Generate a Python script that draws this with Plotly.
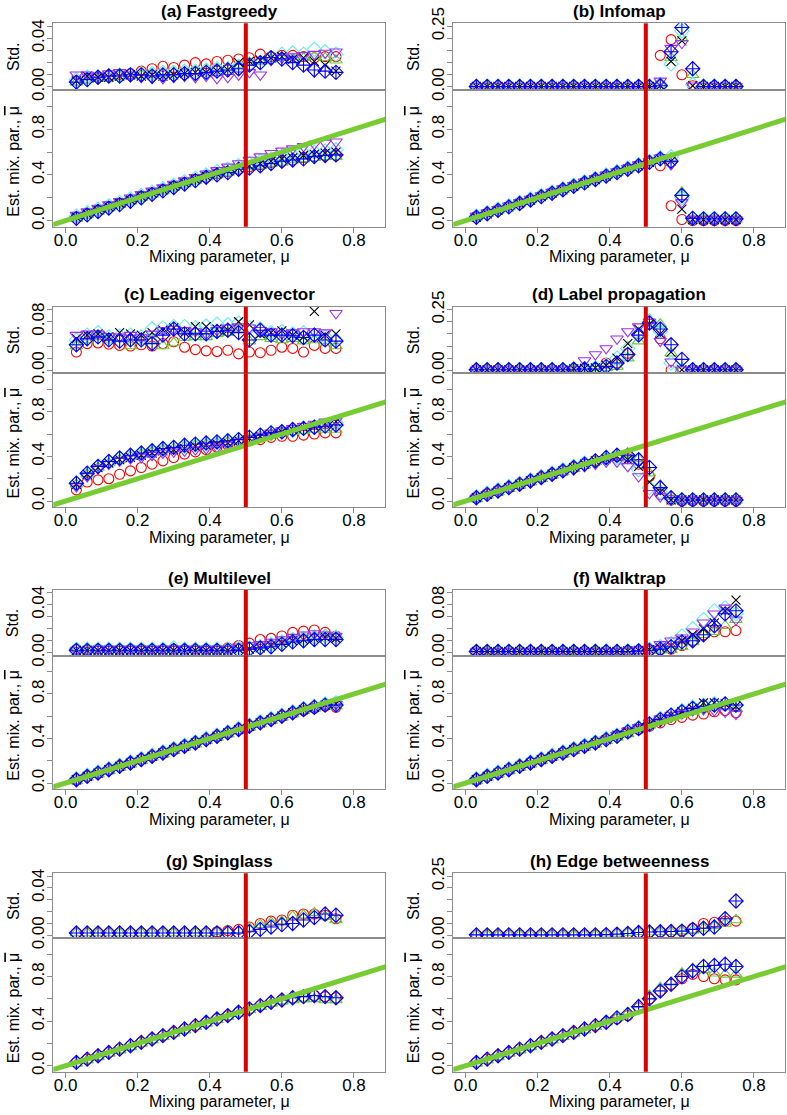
import plotly.graph_objects as go

# mixing parameter values used in the benchmark
mu = [0.03, 0.06, 0.09, 0.12, 0.15, 0.18, 0.21, 0.24, 0.27, 0.30, 0.33, 0.36, 0.39,
      0.42, 0.45, 0.48, 0.51, 0.54, 0.57, 0.60, 0.63, 0.66, 0.69, 0.72, 0.75]

# (a) Fastgreedy
a_red_m = [0.03, 0.06, 0.09, 0.12, 0.15, 0.18, 0.21, 0.24, 0.27, 0.30, 0.33, 0.36, 0.38, 0.41, 0.43, 0.45, 0.47, 0.49, 0.51, 0.52, 0.53, 0.55, 0.56, 0.57, 0.57]
a_green_m = [0.02, 0.05, 0.08, 0.11, 0.14, 0.17, 0.20, 0.23, 0.26, 0.29, 0.32, 0.35, 0.38, 0.40, 0.42, 0.45, 0.47, 0.48, 0.50, 0.51, 0.53, 0.54, 0.55, 0.56, 0.56]
a_cyan_m = [0.04, 0.07, 0.10, 0.13, 0.16, 0.19, 0.22, 0.25, 0.28, 0.31, 0.34, 0.37, 0.40, 0.43, 0.45, 0.48, 0.50, 0.52, 0.54, 0.56, 0.57, 0.59, 0.60, 0.61, 0.62]
a_black_m = [0.03, 0.06, 0.09, 0.12, 0.15, 0.18, 0.21, 0.24, 0.27, 0.30, 0.33, 0.36, 0.39, 0.41, 0.44, 0.46, 0.48, 0.50, 0.52, 0.54, 0.55, 0.57, 0.58, 0.59, 0.60]
a_purple_m = [0.05, 0.08, 0.11, 0.14, 0.17, 0.20, 0.23, 0.26, 0.29, 0.32, 0.35, 0.38, 0.41, 0.44, 0.47, 0.50, 0.53, 0.56, 0.59, 0.61, 0.63, 0.65, 0.67, 0.68, 0.69]
a_blue_m = [0.02, 0.05, 0.08, 0.11, 0.14, 0.17, 0.20, 0.23, 0.26, 0.29, 0.32, 0.35, 0.38, 0.40, 0.42, 0.45, 0.46, 0.48, 0.50, 0.52, 0.53, 0.54, 0.56, 0.57, 0.575]
a_red_s = [0.005, 0.007, 0.008, 0.009, 0.010, 0.011, 0.013, 0.015, 0.017, 0.016, 0.018, 0.020, 0.019, 0.021, 0.022, 0.023, 0.024, 0.027, 0.025, 0.026, 0.026, 0.025, 0.024, 0.025, 0.025]
a_green_s = [0.004, 0.006, 0.007, 0.008, 0.009, 0.009, 0.010, 0.010, 0.011, 0.012, 0.012, 0.013, 0.014, 0.015, 0.016, 0.018, 0.020, 0.021, 0.023, 0.024, 0.023, 0.024, 0.025, 0.024, 0.022]
a_cyan_s = [0.006, 0.008, 0.008, 0.009, 0.010, 0.010, 0.011, 0.011, 0.012, 0.012, 0.013, 0.013, 0.014, 0.015, 0.015, 0.017, 0.019, 0.020, 0.024, 0.027, 0.028, 0.027, 0.031, 0.029, 0.027]
a_black_s = [0.005, 0.009, 0.008, 0.008, 0.009, 0.010, 0.009, 0.010, 0.009, 0.010, 0.011, 0.012, 0.012, 0.013, 0.014, 0.020, 0.021, 0.022, 0.024, 0.025, 0.023, 0.024, 0.021, 0.018, 0.013]
a_purple_s = [0.010, 0.010, 0.009, 0.011, 0.012, 0.010, 0.008, 0.007, 0.007, 0.008, 0.009, 0.008, 0.009, 0.007, 0.008, 0.010, 0.012, 0.010, 0.022, 0.024, 0.025, 0.026, 0.027, 0.028, 0.029]
a_blue_s = [0.004, 0.006, 0.008, 0.009, 0.009, 0.010, 0.010, 0.009, 0.010, 0.010, 0.011, 0.011, 0.012, 0.013, 0.014, 0.015, 0.018, 0.020, 0.024, 0.023, 0.020, 0.018, 0.014, 0.013, 0.012]

# (b) Infomap
b_red_m = [0.03, 0.06, 0.09, 0.12, 0.15, 0.18, 0.21, 0.24, 0.27, 0.30, 0.33, 0.36, 0.39, 0.42, 0.45, 0.48, 0.51, 0.48, 0.13, 0.01, 0.00, 0.00, 0.00, 0.00, 0.00]
b_green_m = [0.03, 0.06, 0.09, 0.12, 0.15, 0.18, 0.21, 0.24, 0.27, 0.30, 0.33, 0.36, 0.39, 0.42, 0.45, 0.48, 0.51, 0.54, 0.55, 0.25, 0.01, 0.01, 0.01, 0.01, 0.01]
b_cyan_m = [0.04, 0.07, 0.10, 0.13, 0.16, 0.19, 0.22, 0.25, 0.28, 0.31, 0.34, 0.37, 0.40, 0.43, 0.46, 0.49, 0.52, 0.55, 0.56, 0.20, 0.02, 0.02, 0.02, 0.02, 0.02]
b_black_m = [0.03, 0.06, 0.09, 0.12, 0.15, 0.18, 0.21, 0.24, 0.27, 0.30, 0.33, 0.36, 0.39, 0.42, 0.45, 0.48, 0.51, 0.54, 0.52, 0.10, 0.01, 0.01, 0.01, 0.01, 0.01]
b_purple_m = [0.04, 0.07, 0.10, 0.13, 0.16, 0.19, 0.22, 0.25, 0.28, 0.31, 0.34, 0.37, 0.40, 0.43, 0.46, 0.49, 0.52, 0.55, 0.49, 0.16, 0.01, 0.01, 0.01, 0.01, 0.01]
b_blue_m = [0.03, 0.06, 0.09, 0.12, 0.15, 0.18, 0.21, 0.24, 0.27, 0.30, 0.33, 0.36, 0.39, 0.42, 0.45, 0.48, 0.51, 0.54, 0.52, 0.22, 0.02, 0.015, 0.015, 0.015, 0.015]
b_red_s = [0.002, 0.002, 0.002, 0.002, 0.002, 0.002, 0.002, 0.002, 0.002, 0.002, 0.002, 0.002, 0.002, 0.002, 0.002, 0.002, 0.002, 0.130, 0.195, 0.050, 0.005, 0.002, 0.002, 0.002, 0.002]
b_green_s = [0.003, 0.003, 0.003, 0.003, 0.003, 0.003, 0.003, 0.003, 0.003, 0.003, 0.003, 0.003, 0.003, 0.003, 0.003, 0.003, 0.003, 0.010, 0.120, 0.200, 0.050, 0.003, 0.003, 0.003, 0.003]
b_cyan_s = [0.003, 0.003, 0.003, 0.003, 0.003, 0.003, 0.003, 0.003, 0.003, 0.003, 0.003, 0.003, 0.003, 0.003, 0.003, 0.003, 0.003, 0.010, 0.095, 0.230, 0.010, 0.003, 0.003, 0.003, 0.003]
b_black_s = [0.002, 0.002, 0.002, 0.002, 0.002, 0.002, 0.002, 0.002, 0.002, 0.002, 0.002, 0.002, 0.002, 0.002, 0.002, 0.002, 0.002, 0.005, 0.105, 0.190, 0.005, 0.002, 0.002, 0.002, 0.002]
b_purple_s = [0.003, 0.003, 0.003, 0.003, 0.003, 0.003, 0.003, 0.003, 0.003, 0.003, 0.003, 0.003, 0.003, 0.003, 0.003, 0.003, 0.003, 0.025, 0.160, 0.180, 0.005, 0.003, 0.003, 0.003, 0.003]
b_blue_s = [0.002, 0.002, 0.002, 0.002, 0.002, 0.002, 0.002, 0.002, 0.002, 0.002, 0.002, 0.002, 0.002, 0.002, 0.002, 0.002, 0.002, 0.005, 0.145, 0.245, 0.075, 0.002, 0.002, 0.002, 0.002]

# (c) Leading eigenvector
c_red_m = [0.10, 0.17, 0.19, 0.20, 0.24, 0.27, 0.30, 0.33, 0.36, 0.39, 0.42, 0.44, 0.46, 0.48, 0.50, 0.52, 0.54, 0.55, 0.57, 0.58, 0.58, 0.59, 0.60, 0.61, 0.61]
c_green_m = [0.15, 0.24, 0.30, 0.34, 0.37, 0.40, 0.42, 0.44, 0.46, 0.47, 0.49, 0.50, 0.51, 0.52, 0.53, 0.54, 0.56, 0.58, 0.60, 0.61, 0.62, 0.63, 0.64, 0.64, 0.64]
c_cyan_m = [0.16, 0.24, 0.31, 0.35, 0.38, 0.40, 0.42, 0.44, 0.46, 0.48, 0.49, 0.50, 0.51, 0.52, 0.53, 0.55, 0.57, 0.59, 0.61, 0.62, 0.63, 0.65, 0.66, 0.68, 0.70]
c_black_m = [0.15, 0.24, 0.30, 0.34, 0.37, 0.39, 0.41, 0.43, 0.45, 0.46, 0.47, 0.49, 0.50, 0.51, 0.52, 0.54, 0.56, 0.58, 0.60, 0.62, 0.64, 0.66, 0.67, 0.69, 0.71]
c_purple_m = [0.13, 0.22, 0.29, 0.33, 0.36, 0.38, 0.39, 0.41, 0.43, 0.44, 0.45, 0.46, 0.47, 0.48, 0.50, 0.53, 0.56, 0.58, 0.61, 0.63, 0.65, 0.67, 0.69, 0.71, 0.72]
c_blue_m = [0.16, 0.25, 0.31, 0.355, 0.385, 0.41, 0.43, 0.45, 0.47, 0.48, 0.50, 0.51, 0.52, 0.53, 0.54, 0.55, 0.57, 0.59, 0.61, 0.62, 0.64, 0.65, 0.66, 0.67, 0.68]
c_red_s = [0.030, 0.044, 0.045, 0.043, 0.041, 0.040, 0.042, 0.040, 0.044, 0.047, 0.038, 0.034, 0.032, 0.031, 0.033, 0.027, 0.030, 0.029, 0.033, 0.038, 0.036, 0.030, 0.041, 0.036, 0.036]
c_green_s = [0.040, 0.050, 0.055, 0.050, 0.052, 0.040, 0.048, 0.050, 0.040, 0.045, 0.054, 0.055, 0.055, 0.060, 0.062, 0.068, 0.048, 0.055, 0.052, 0.050, 0.052, 0.048, 0.050, 0.045, 0.040]
c_cyan_s = [0.050, 0.058, 0.062, 0.055, 0.056, 0.058, 0.055, 0.068, 0.070, 0.072, 0.072, 0.070, 0.073, 0.076, 0.075, 0.078, 0.070, 0.068, 0.062, 0.064, 0.060, 0.062, 0.058, 0.055, 0.050]
c_black_s = [0.052, 0.058, 0.060, 0.055, 0.062, 0.060, 0.058, 0.062, 0.066, 0.070, 0.062, 0.072, 0.072, 0.068, 0.066, 0.080, 0.075, 0.060, 0.062, 0.065, 0.058, 0.055, 0.097, 0.058, 0.060]
c_purple_s = [0.058, 0.060, 0.060, 0.056, 0.055, 0.058, 0.054, 0.060, 0.066, 0.068, 0.066, 0.064, 0.060, 0.066, 0.070, 0.072, 0.070, 0.066, 0.064, 0.060, 0.062, 0.064, 0.064, 0.062, 0.094]
c_blue_s = [0.042, 0.052, 0.055, 0.050, 0.048, 0.050, 0.050, 0.044, 0.058, 0.068, 0.060, 0.060, 0.060, 0.064, 0.066, 0.062, 0.050, 0.066, 0.058, 0.058, 0.057, 0.054, 0.058, 0.050, 0.048]

# (d) Label propagation
d_red_m = [0.03, 0.06, 0.09, 0.12, 0.15, 0.18, 0.21, 0.24, 0.27, 0.30, 0.33, 0.36, 0.38, 0.40, 0.38, 0.33, 0.22, 0.06, 0.01, 0.00, 0.00, 0.00, 0.00, 0.00, 0.00]
d_green_m = [0.02, 0.05, 0.08, 0.11, 0.14, 0.17, 0.20, 0.23, 0.26, 0.29, 0.32, 0.35, 0.38, 0.41, 0.42, 0.38, 0.25, 0.14, 0.04, 0.005, 0.005, 0.005, 0.005, 0.005, 0.005]
d_cyan_m = [0.04, 0.07, 0.10, 0.13, 0.16, 0.19, 0.22, 0.25, 0.28, 0.31, 0.34, 0.36, 0.38, 0.39, 0.33, 0.28, 0.12, 0.08, 0.02, 0.01, 0.01, 0.01, 0.01, 0.01, 0.01]
d_black_m = [0.03, 0.06, 0.09, 0.12, 0.15, 0.18, 0.21, 0.24, 0.27, 0.30, 0.33, 0.36, 0.38, 0.40, 0.37, 0.31, 0.17, 0.08, 0.01, 0.01, 0.01, 0.01, 0.01, 0.01, 0.01]
d_purple_m = [0.03, 0.06, 0.09, 0.11, 0.14, 0.17, 0.20, 0.23, 0.26, 0.28, 0.31, 0.33, 0.35, 0.35, 0.31, 0.22, 0.07, 0.04, 0.01, 0.01, 0.01, 0.01, 0.01, 0.01, 0.01]
d_blue_m = [0.03, 0.06, 0.09, 0.12, 0.15, 0.18, 0.21, 0.24, 0.27, 0.30, 0.33, 0.36, 0.39, 0.41, 0.41, 0.37, 0.30, 0.12, 0.03, 0.01, 0.01, 0.01, 0.01, 0.01, 0.01]
d_red_s = [0.002, 0.002, 0.002, 0.002, 0.002, 0.002, 0.002, 0.002, 0.002, 0.004, 0.006, 0.010, 0.030, 0.030, 0.070, 0.150, 0.190, 0.130, 0.000, 0.000, 0.000, 0.000, 0.000, 0.000, 0.000]
d_green_s = [0.002, 0.002, 0.002, 0.002, 0.002, 0.002, 0.002, 0.002, 0.004, 0.006, 0.008, 0.010, 0.010, 0.015, 0.050, 0.120, 0.210, 0.190, 0.070, 0.002, 0.002, 0.002, 0.002, 0.002, 0.002]
d_cyan_s = [0.002, 0.002, 0.002, 0.002, 0.002, 0.002, 0.002, 0.002, 0.002, 0.006, 0.008, 0.010, 0.020, 0.050, 0.090, 0.150, 0.200, 0.160, 0.030, 0.002, 0.002, 0.002, 0.002, 0.002, 0.002]
d_black_s = [0.002, 0.002, 0.002, 0.002, 0.002, 0.002, 0.002, 0.002, 0.002, 0.006, 0.008, 0.010, 0.020, 0.050, 0.110, 0.170, 0.190, 0.150, 0.075, 0.002, 0.002, 0.002, 0.002, 0.002, 0.002]
d_purple_s = [0.002, 0.002, 0.002, 0.002, 0.002, 0.002, 0.002, 0.002, 0.002, 0.005, 0.040, 0.065, 0.090, 0.130, 0.160, 0.180, 0.200, 0.120, 0.035, 0.002, 0.002, 0.002, 0.002, 0.002, 0.002]
d_blue_s = [0.002, 0.002, 0.002, 0.002, 0.002, 0.002, 0.002, 0.002, 0.002, 0.004, 0.005, 0.005, 0.015, 0.030, 0.065, 0.145, 0.195, 0.170, 0.105, 0.045, 0.002, 0.002, 0.002, 0.002, 0.002]

# (e) Multilevel
e_red_m = [0.03, 0.06, 0.09, 0.12, 0.15, 0.18, 0.21, 0.24, 0.27, 0.30, 0.33, 0.36, 0.39, 0.42, 0.45, 0.48, 0.51, 0.54, 0.57, 0.60, 0.63, 0.65, 0.67, 0.69, 0.68]
e_green_m = [0.02, 0.05, 0.08, 0.11, 0.14, 0.17, 0.20, 0.23, 0.26, 0.29, 0.32, 0.35, 0.38, 0.41, 0.44, 0.47, 0.50, 0.53, 0.56, 0.59, 0.62, 0.65, 0.67, 0.69, 0.69]
e_cyan_m = [0.04, 0.07, 0.10, 0.13, 0.16, 0.19, 0.22, 0.25, 0.28, 0.31, 0.34, 0.37, 0.40, 0.43, 0.46, 0.49, 0.52, 0.55, 0.58, 0.61, 0.64, 0.67, 0.69, 0.71, 0.72]
e_black_m = [0.03, 0.06, 0.09, 0.12, 0.15, 0.18, 0.21, 0.24, 0.27, 0.30, 0.33, 0.36, 0.39, 0.42, 0.45, 0.48, 0.51, 0.54, 0.57, 0.60, 0.63, 0.66, 0.68, 0.70, 0.71]
e_purple_m = [0.02, 0.05, 0.08, 0.11, 0.14, 0.17, 0.20, 0.23, 0.26, 0.29, 0.32, 0.35, 0.38, 0.41, 0.44, 0.47, 0.50, 0.53, 0.56, 0.59, 0.62, 0.65, 0.68, 0.70, 0.71]
e_blue_m = [0.03, 0.06, 0.09, 0.12, 0.15, 0.18, 0.21, 0.24, 0.27, 0.30, 0.33, 0.36, 0.39, 0.42, 0.45, 0.48, 0.51, 0.54, 0.57, 0.60, 0.63, 0.66, 0.68, 0.70, 0.70]
e_red_s = [0.003, 0.002, 0.003, 0.003, 0.003, 0.003, 0.003, 0.003, 0.003, 0.003, 0.003, 0.003, 0.003, 0.003, 0.004, 0.006, 0.008, 0.011, 0.012, 0.014, 0.017, 0.018, 0.019, 0.017, 0.014]
e_green_s = [0.003, 0.002, 0.003, 0.003, 0.003, 0.003, 0.003, 0.003, 0.003, 0.003, 0.003, 0.003, 0.003, 0.003, 0.003, 0.004, 0.005, 0.006, 0.008, 0.010, 0.012, 0.013, 0.014, 0.015, 0.014]
e_cyan_s = [0.003, 0.003, 0.003, 0.003, 0.003, 0.003, 0.003, 0.003, 0.003, 0.004, 0.003, 0.003, 0.003, 0.003, 0.003, 0.004, 0.004, 0.005, 0.007, 0.009, 0.011, 0.012, 0.013, 0.014, 0.013]
e_black_s = [0.002, 0.002, 0.002, 0.002, 0.002, 0.002, 0.002, 0.002, 0.002, 0.002, 0.002, 0.002, 0.002, 0.002, 0.002, 0.003, 0.003, 0.004, 0.006, 0.008, 0.010, 0.011, 0.012, 0.013, 0.012]
e_purple_s = [0.002, 0.002, 0.003, 0.003, 0.003, 0.003, 0.003, 0.003, 0.003, 0.003, 0.003, 0.003, 0.003, 0.003, 0.003, 0.005, 0.006, 0.007, 0.009, 0.011, 0.013, 0.015, 0.016, 0.015, 0.014]
e_blue_s = [0.002, 0.002, 0.002, 0.002, 0.002, 0.002, 0.002, 0.002, 0.002, 0.002, 0.002, 0.002, 0.002, 0.002, 0.002, 0.002, 0.003, 0.004, 0.005, 0.007, 0.009, 0.010, 0.011, 0.011, 0.011]

# (f) Walktrap
f_red_m = [0.03, 0.06, 0.09, 0.12, 0.15, 0.18, 0.21, 0.24, 0.27, 0.30, 0.33, 0.36, 0.39, 0.42, 0.45, 0.48, 0.51, 0.54, 0.57, 0.59, 0.61, 0.62, 0.64, 0.65, 0.63]
f_green_m = [0.02, 0.05, 0.08, 0.11, 0.14, 0.17, 0.20, 0.23, 0.26, 0.29, 0.32, 0.35, 0.38, 0.41, 0.44, 0.48, 0.52, 0.56, 0.59, 0.62, 0.64, 0.66, 0.68, 0.68, 0.67]
f_cyan_m = [0.04, 0.07, 0.10, 0.13, 0.16, 0.19, 0.22, 0.25, 0.28, 0.31, 0.34, 0.37, 0.40, 0.43, 0.47, 0.50, 0.53, 0.58, 0.61, 0.65, 0.68, 0.70, 0.71, 0.71, 0.70]
f_black_m = [0.03, 0.06, 0.09, 0.12, 0.15, 0.18, 0.21, 0.24, 0.27, 0.30, 0.33, 0.36, 0.39, 0.43, 0.46, 0.49, 0.53, 0.57, 0.61, 0.64, 0.67, 0.72, 0.72, 0.71, 0.69]
f_purple_m = [0.02, 0.05, 0.08, 0.11, 0.14, 0.17, 0.20, 0.23, 0.26, 0.29, 0.32, 0.35, 0.39, 0.43, 0.47, 0.50, 0.54, 0.58, 0.61, 0.63, 0.65, 0.66, 0.65, 0.64, 0.62]
f_blue_m = [0.03, 0.06, 0.09, 0.12, 0.15, 0.18, 0.21, 0.24, 0.27, 0.30, 0.33, 0.36, 0.39, 0.42, 0.46, 0.49, 0.53, 0.57, 0.61, 0.64, 0.67, 0.69, 0.70, 0.71, 0.70]
f_red_s = [0.002, 0.002, 0.002, 0.002, 0.002, 0.002, 0.002, 0.002, 0.002, 0.002, 0.002, 0.002, 0.002, 0.002, 0.002, 0.003, 0.004, 0.005, 0.006, 0.012, 0.020, 0.030, 0.035, 0.035, 0.037]
f_green_s = [0.002, 0.002, 0.002, 0.002, 0.002, 0.002, 0.002, 0.002, 0.002, 0.002, 0.002, 0.002, 0.002, 0.002, 0.002, 0.003, 0.004, 0.004, 0.005, 0.010, 0.018, 0.030, 0.035, 0.045, 0.055]
f_cyan_s = [0.002, 0.002, 0.002, 0.002, 0.002, 0.002, 0.002, 0.002, 0.002, 0.002, 0.002, 0.002, 0.002, 0.002, 0.003, 0.004, 0.006, 0.010, 0.015, 0.028, 0.040, 0.055, 0.070, 0.075, 0.065]
f_black_s = [0.002, 0.002, 0.002, 0.002, 0.002, 0.002, 0.002, 0.002, 0.002, 0.002, 0.002, 0.002, 0.002, 0.002, 0.003, 0.004, 0.005, 0.008, 0.012, 0.020, 0.030, 0.040, 0.050, 0.070, 0.088]
f_purple_s = [0.002, 0.002, 0.002, 0.002, 0.002, 0.002, 0.002, 0.002, 0.002, 0.002, 0.002, 0.002, 0.002, 0.002, 0.003, 0.005, 0.006, 0.014, 0.020, 0.025, 0.035, 0.050, 0.065, 0.075, 0.055]
f_blue_s = [0.002, 0.002, 0.002, 0.002, 0.002, 0.002, 0.002, 0.002, 0.002, 0.002, 0.002, 0.002, 0.002, 0.002, 0.002, 0.003, 0.004, 0.006, 0.010, 0.018, 0.020, 0.030, 0.045, 0.065, 0.070]

# (g) Spinglass
g_red_m = [0.03, 0.06, 0.09, 0.12, 0.15, 0.18, 0.21, 0.24, 0.27, 0.30, 0.33, 0.36, 0.39, 0.42, 0.45, 0.48, 0.51, 0.54, 0.57, 0.59, 0.61, 0.62, 0.63, 0.62, 0.61]
g_green_m = [0.02, 0.05, 0.08, 0.11, 0.14, 0.17, 0.20, 0.23, 0.26, 0.29, 0.32, 0.35, 0.38, 0.41, 0.44, 0.47, 0.50, 0.53, 0.56, 0.58, 0.59, 0.60, 0.60, 0.59, 0.59]
g_blue_m = [0.03, 0.06, 0.09, 0.12, 0.15, 0.18, 0.21, 0.24, 0.27, 0.30, 0.33, 0.36, 0.39, 0.42, 0.45, 0.48, 0.51, 0.54, 0.57, 0.59, 0.61, 0.62, 0.63, 0.62, 0.61]
g_red_s = [0.002, 0.002, 0.002, 0.002, 0.002, 0.002, 0.002, 0.002, 0.002, 0.002, 0.002, 0.002, 0.002, 0.003, 0.004, 0.005, 0.007, 0.010, 0.012, 0.013, 0.017, 0.018, 0.018, 0.017, 0.014]
g_green_s = [0.002, 0.002, 0.002, 0.002, 0.002, 0.002, 0.002, 0.002, 0.002, 0.002, 0.002, 0.002, 0.002, 0.003, 0.004, 0.004, 0.006, 0.009, 0.011, 0.012, 0.016, 0.017, 0.019, 0.016, 0.013]
g_blue_s = [0.002, 0.002, 0.002, 0.002, 0.002, 0.002, 0.002, 0.002, 0.002, 0.002, 0.002, 0.002, 0.002, 0.002, 0.002, 0.002, 0.003, 0.005, 0.007, 0.009, 0.010, 0.013, 0.015, 0.018, 0.017]

# (h) Edge betweenness
h_red_m = [0.03, 0.06, 0.09, 0.12, 0.15, 0.18, 0.21, 0.24, 0.27, 0.30, 0.33, 0.36, 0.39, 0.42, 0.45, 0.52, 0.60, 0.67, 0.73, 0.78, 0.82, 0.80, 0.78, 0.77, 0.77]
h_green_m = [0.02, 0.05, 0.08, 0.11, 0.14, 0.17, 0.20, 0.23, 0.26, 0.29, 0.32, 0.35, 0.39, 0.43, 0.47, 0.55, 0.63, 0.70, 0.75, 0.83, 0.87, 0.86, 0.83, 0.82, 0.82]
h_blue_m = [0.03, 0.06, 0.09, 0.12, 0.15, 0.18, 0.21, 0.24, 0.27, 0.30, 0.33, 0.36, 0.39, 0.43, 0.46, 0.53, 0.60, 0.67, 0.73, 0.80, 0.85, 0.89, 0.90, 0.91, 0.89]
h_red_s = [0.002, 0.002, 0.002, 0.002, 0.002, 0.002, 0.002, 0.002, 0.002, 0.002, 0.002, 0.002, 0.004, 0.006, 0.008, 0.012, 0.014, 0.015, 0.015, 0.020, 0.030, 0.050, 0.055, 0.060, 0.060]
h_green_s = [0.002, 0.002, 0.002, 0.002, 0.002, 0.002, 0.002, 0.002, 0.002, 0.002, 0.002, 0.002, 0.004, 0.008, 0.012, 0.015, 0.014, 0.015, 0.015, 0.018, 0.022, 0.030, 0.040, 0.050, 0.065]
h_blue_s = [0.002, 0.002, 0.002, 0.002, 0.002, 0.002, 0.002, 0.002, 0.002, 0.002, 0.002, 0.002, 0.003, 0.005, 0.008, 0.012, 0.014, 0.015, 0.016, 0.018, 0.025, 0.030, 0.035, 0.070, 0.145]

x_ticks = [0.0, 0.2, 0.4, 0.6, 0.8]
mean_ticks = [0.0, 0.2, 0.4, 0.6, 0.8, 1.0]
mean_labels = ["0.0", "", "0.4", "", "0.8", ""]
diag = [-0.1, 1.0]
threshold = 0.5

styles = {
    "red": ("circle-open", "#FF0000", 10),
    "green": ("triangle-up-open", "#66CC33", 11),
    "cyan": ("diamond-open", "#66EEEE", 11),
    "black": ("x-thin-open", "#000000", 9),
    "purple": ("triangle-down-open", "#9B30FF", 11),
    "blue": ("diamond-cross-open", "#0000FF", 11),
}

panels = [
    ("(a) Fastgreedy", 0.01, 4, {"red": (a_red_m, a_red_s), "green": (a_green_m, a_green_s), "cyan": (a_cyan_m, a_cyan_s),
                                  "black": (a_black_m, a_black_s), "purple": (a_purple_m, a_purple_s), "blue": (a_blue_m, a_blue_s)}),
    ("(b) Infomap", 0.05, 5, {"red": (b_red_m, b_red_s), "green": (b_green_m, b_green_s), "cyan": (b_cyan_m, b_cyan_s),
                               "black": (b_black_m, b_black_s), "purple": (b_purple_m, b_purple_s), "blue": (b_blue_m, b_blue_s)}),
    ("(c) Leading eigenvector", 0.02, 4, {"red": (c_red_m, c_red_s), "green": (c_green_m, c_green_s), "cyan": (c_cyan_m, c_cyan_s),
                                           "black": (c_black_m, c_black_s), "purple": (c_purple_m, c_purple_s), "blue": (c_blue_m, c_blue_s)}),
    ("(d) Label propagation", 0.05, 5, {"red": (d_red_m, d_red_s), "green": (d_green_m, d_green_s), "cyan": (d_cyan_m, d_cyan_s),
                                         "black": (d_black_m, d_black_s), "purple": (d_purple_m, d_purple_s), "blue": (d_blue_m, d_blue_s)}),
    ("(e) Multilevel", 0.01, 4, {"red": (e_red_m, e_red_s), "green": (e_green_m, e_green_s), "cyan": (e_cyan_m, e_cyan_s),
                                  "black": (e_black_m, e_black_s), "purple": (e_purple_m, e_purple_s), "blue": (e_blue_m, e_blue_s)}),
    ("(f) Walktrap", 0.02, 4, {"red": (f_red_m, f_red_s), "green": (f_green_m, f_green_s), "cyan": (f_cyan_m, f_cyan_s),
                                "black": (f_black_m, f_black_s), "purple": (f_purple_m, f_purple_s), "blue": (f_blue_m, f_blue_s)}),
    ("(g) Spinglass", 0.01, 4, {"red": (g_red_m, g_red_s), "green": (g_green_m, g_green_s), "blue": (g_blue_m, g_blue_s)}),
    ("(h) Edge betweenness", 0.05, 5, {"red": (h_red_m, h_red_s), "green": (h_green_m, h_green_s), "blue": (h_blue_m, h_blue_s)}),
]

W, H = 787, 1115
cols = [(53.3, 385.0), (453.3, 785.0)]
rows = [(23.3, 90.0, 226.7), (306.7, 373.3, 507.0), (590.0, 655.7, 789.0), (873.3, 938.3, 1071.7)]
x_range = [-0.034, 0.886]
mean_range = [-0.053, 1.143]
FONT = "Liberation Sans, Arial, Helvetica, sans-serif"
frame = "#8C8C8C"

fig = go.Figure()
layout = dict(width=W, height=H, margin=dict(l=0, r=0, t=0, b=0, autoexpand=False), showlegend=False,
              plot_bgcolor="white", paper_bgcolor="white",
              font=dict(family=FONT, size=16, color="black"))
shapes, annotations = [], []


def px_x(p):
    return p / W


def px_y(p):
    return 1 - p / H


def ax_id(n):
    return "" if n == 1 else str(n)


for i, (title, step, lab, series) in enumerate(panels):
    r, c = divmod(i, 2)
    x0, x1 = cols[c]
    top, sep, bot = rows[r]
    it, ib = 2 * i + 1, 2 * i + 2
    for k, idx in ((0, it), (1, ib)):
        xa = dict(domain=[px_x(x0), px_x(x1)], range=x_range, anchor="y" + ax_id(idx),
                  showgrid=False, zeroline=False, showline=True, mirror=True, automargin=False,
                  linecolor=frame, linewidth=1)
        if k == 0:
            xa.update(showticklabels=False, ticks="")
        else:
            xa.update(tickvals=x_ticks, ticktext=[f"{v:.1f}" for v in x_ticks], ticks="outside",
                      ticklen=5, tickcolor=frame, tickfont=dict(size=17), ticklabelstandoff=-7)
        layout["xaxis" + ax_id(idx)] = xa
    std_ticks = [step * j for j in range(6)]
    std_text = [f"{v:.2f}" if j in (0, lab) else "" for j, v in enumerate(std_ticks)]
    ycommon = dict(showgrid=False, zeroline=False, showline=True, mirror=True, automargin=False,
                   linecolor=frame, ticks="outside", ticklen=5, tickcolor=frame, tickangle=-90,
                   tickfont=dict(size=17), ticklabelstandoff=-3)
    layout["yaxis" + ax_id(it)] = dict(domain=[px_y(sep), px_y(top)], range=[-0.25 * step, 5.24 * step],
                                       anchor="x" + ax_id(it), tickvals=std_ticks, ticktext=std_text, **ycommon)
    layout["yaxis" + ax_id(ib)] = dict(domain=[px_y(bot), px_y(sep)], range=mean_range,
                                       anchor="x" + ax_id(ib), tickvals=mean_ticks, ticktext=mean_labels, **ycommon)

    for name, (mean, std) in series.items():
        sym, col, size = styles[name]
        mk = dict(symbol=sym, size=size, color=col, line=dict(width=1.1, color=col))
        fig.add_trace(go.Scatter(x=mu, y=std, mode="markers", marker=mk,
                                 xaxis="x" + ax_id(it), yaxis="y" + ax_id(it), name=name))
        fig.add_trace(go.Scatter(x=mu, y=mean, mode="markers", marker=mk,
                                 xaxis="x" + ax_id(ib), yaxis="y" + ax_id(ib), name=name))

    # identity line on the estimated mixing parameter panel
    fig.add_trace(go.Scatter(x=diag, y=diag, mode="lines", line=dict(color="#77CC33", width=5),
                             xaxis="x" + ax_id(ib), yaxis="y" + ax_id(ib), hoverinfo="skip"))

    for idx in (it, ib):
        shapes.append(dict(type="line", xref="x" + ax_id(idx), yref="y" + ax_id(idx) + " domain",
                           x0=threshold, x1=threshold, y0=0, y1=1,
                           line=dict(color="#DD0000", width=4)))

    annotations.append(dict(text=f"<b>{title}</b>", x=px_x((x0 + x1) / 2), y=px_y(top - 12),
                            xref="paper", yref="paper", showarrow=False,
                            xanchor="center", yanchor="middle", font=dict(size=17)))
    annotations.append(dict(text="Mixing parameter, \u03bc", x=px_x((x0 + x1) / 2), y=px_y(bot + 30),
                            xref="paper", yref="paper", showarrow=False,
                            xanchor="center", yanchor="middle", font=dict(size=16)))
    annotations.append(dict(text="Std.", x=px_x(x0 - 40), y=px_y((top + sep) / 2),
                            xref="paper", yref="paper", showarrow=False, textangle=-90,
                            xanchor="center", yanchor="middle", font=dict(size=16)))
    annotations.append(dict(text="Est. mix. par., <span style='text-decoration:overline'>\u03bc</span>",
                            x=px_x(x0 - 40), y=px_y((sep + bot) / 2 + 3),
                            xref="paper", yref="paper", showarrow=False, textangle=-90,
                            xanchor="center", yanchor="middle", font=dict(size=16)))

layout["shapes"] = shapes
layout["annotations"] = annotations
fig.update_layout(**layout)
fig.write_html("out.html", config={"displayModeBar": False},
               post_script="document.body.style.margin = '0px';")
